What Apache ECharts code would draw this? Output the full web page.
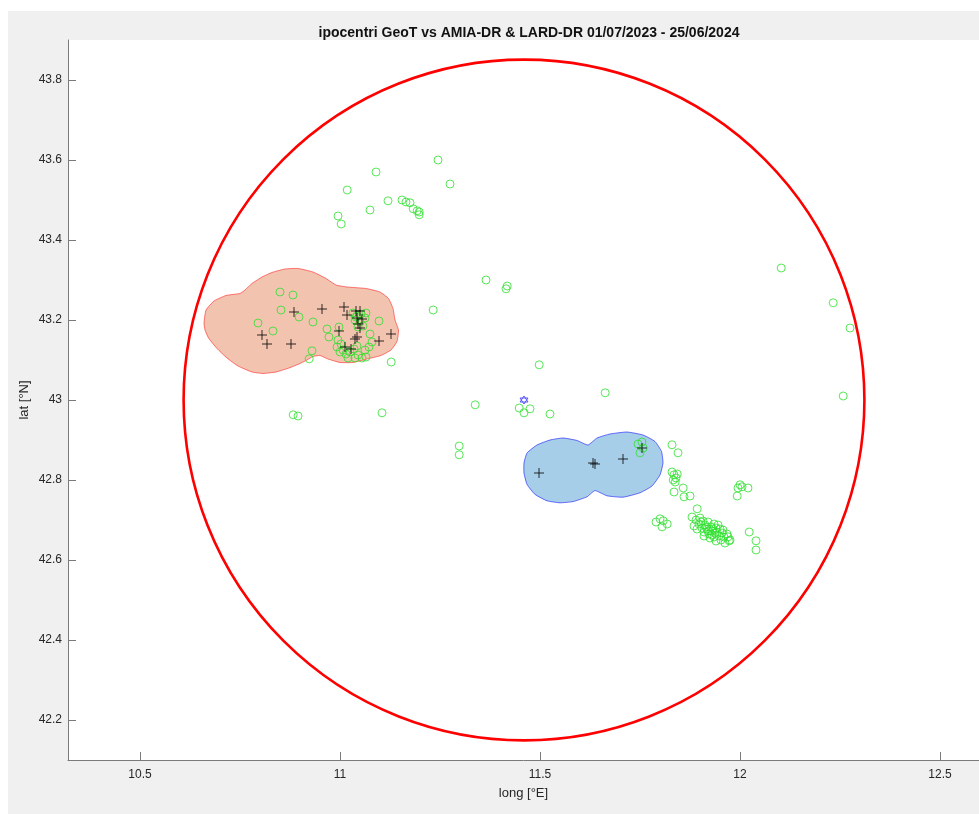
<!DOCTYPE html>
<html><head><meta charset="utf-8">
<script src="https://cdn.jsdelivr.net/npm/echarts@6/dist/echarts.min.js"></script>
<style>html,body{margin:0;padding:0;background:#fff}#c{width:979px;height:814px}</style>
</head><body><div id="c"></div>
<script>
// ---- tick labels ----
const xTicks = [10.5, 11, 11.5, 12, 12.5];
const yTicks = [42.2, 42.4, 42.6, 42.8, 43, 43.2, 43.4, 43.6, 43.8];

// ---- GeoT hypocentres (green circles) ----
const geotNorthLon = [11.245,11.275,11.090,11.018,11.120,11.155,11.165,11.175,11.183,11.193,11.198,11.198,11.075,10.995,11.003];
const geotNorthLat = [43.600,43.540,43.570,43.525,43.498,43.500,43.495,43.493,43.478,43.473,43.470,43.463,43.475,43.460,43.440];
const geotMidLon = [11.365,11.418,11.415,11.233,11.498,11.338,11.448,11.460,11.475,11.525,11.663,11.298,11.298,11.105,10.883,10.895,11.128,10.923,10.930];
const geotMidLat = [43.300,43.285,43.278,43.225,43.088,42.988,42.980,42.968,42.978,42.965,43.018,42.885,42.863,42.968,42.963,42.960,43.095,43.103,43.123];
const geotEastLon = [12.103,12.233,12.275,12.258];
const geotEastLat = [43.330,43.243,43.180,43.010];
const geotSELon = [11.745,11.755,11.758,11.750,11.830,11.845,11.830,11.835,11.840,11.833,11.838,11.843,11.835,11.858,11.860,11.875,11.893,11.790,11.800,11.808,11.805,11.818,12.000,11.995,12.005,11.993,12.020,12.023,12.040,12.040,11.970,11.973];
const geotSELat = [42.890,42.895,42.880,42.868,42.888,42.868,42.820,42.813,42.805,42.800,42.795,42.815,42.770,42.780,42.758,42.760,42.728,42.695,42.703,42.698,42.683,42.690,42.788,42.780,42.783,42.760,42.780,42.670,42.648,42.625,42.658,42.648];
const geotDenseLon = [11.880,11.890,11.900,11.9075,11.8975,11.9125,11.920,11.885,11.905,11.9175,11.9275,11.935,11.940,11.930,11.9225,11.910,11.9425,11.950,11.955,11.9475,11.935,11.925,11.960,11.9675,11.9525,11.940,11.975,11.915,11.9325,11.945,11.9025,11.8925,11.9575,11.9625,11.930,11.920,11.910,11.9375];
const geotDenseLat = [42.7075,42.700,42.705,42.6975,42.690,42.6875,42.695,42.685,42.680,42.6775,42.6825,42.690,42.680,42.6725,42.665,42.670,42.670,42.6775,42.6675,42.660,42.6575,42.655,42.6575,42.665,42.650,42.6475,42.650,42.6825,42.6775,42.6875,42.695,42.6775,42.675,42.6425,42.6625,42.6725,42.660,42.6675];
const geotWestLon = [10.85,10.8825,10.8525,10.8975,10.795,10.8325,10.9325,10.9675,10.9725,10.9975,11.0975,11.075,11.08,11.0325,11.0425,11.0525,11.0625,11.0375,11.05,11.0575,11.045,11.04,11.065,10.995,11.0025,10.9925,11.0075,11.015,11.025,11.035,11.045,11.055,11.0625,11.0725,11.065,11.0375,11.02,11.0425,11.0];
const geotWestLat = [43.27,43.2625,43.225,43.2075,43.1925,43.1725,43.195,43.1775,43.1575,43.1825,43.1975,43.165,43.145,43.2175,43.21,43.215,43.205,43.20,43.195,43.185,43.1825,43.2075,43.2175,43.15,43.14,43.1325,43.125,43.115,43.12,43.1275,43.1125,43.105,43.125,43.1325,43.1075,43.105,43.105,43.135,43.12];

// ---- AMIA-DR / LARD-DR events (black +) ----
const drLon = [10.885,10.955,11.01,11.0175,11.04,11.05,11.0425,11.055,11.045,11.05,10.9975,11.0425,10.805,10.8175,10.8775,11.0125,11.0275,11.0975,11.1275,11.0375,11.4975,11.6325,11.6375,11.7075,11.755];
const drLat = [43.22,43.2275,43.2325,43.2125,43.2225,43.2225,43.205,43.2025,43.19,43.18,43.1725,43.1575,43.1625,43.14,43.14,43.1325,43.1275,43.1475,43.165,43.1525,42.8175,42.8425,42.84,42.8525,42.88];

// ---- zone outlines ----
const amiaLon = [10.66,10.665,10.685,10.715,10.75,10.7625,10.78,10.805,10.83,10.8625,10.895,10.9325,10.965,10.99,11.0175,11.065,11.1,11.1213,11.1325,11.1375,11.1463,11.1425,11.1275,11.1025,11.0675,11.0325,11.0,10.97,10.95,10.9325,10.9175,10.9,10.8725,10.84,10.8075,10.78,10.745,10.7175,10.6925,10.6713,10.6625];
const amiaLat = [43.1925,43.225,43.2475,43.2613,43.2663,43.275,43.2913,43.3075,43.3188,43.3275,43.3288,43.32,43.3038,43.2875,43.2825,43.2788,43.27,43.2538,43.2288,43.2,43.175,43.1463,43.125,43.1113,43.1025,43.0938,43.0938,43.1025,43.1113,43.1088,43.1,43.0913,43.08,43.07,43.0663,43.07,43.085,43.105,43.1288,43.155,43.175];
const lardLon = [11.46,11.4675,11.4925,11.525,11.5575,11.5925,11.62,11.6425,11.675,11.7175,11.7575,11.7875,11.8038,11.8075,11.8,11.78,11.75,11.7075,11.6675,11.6375,11.6175,11.5825,11.55,11.5175,11.4875,11.4675,11.46];
const lardLat = [42.8425,42.8675,42.8875,42.9,42.905,42.8988,42.8875,42.905,42.915,42.92,42.9125,42.8963,42.8713,42.8425,42.8125,42.785,42.768,42.757,42.7605,42.7735,42.758,42.746,42.743,42.748,42.764,42.789,42.817];

// ---- reference circle and centre ----
const centreLon = [11.46];
const centreLat = [43.0];
const circleRadiusDeg = [0.851];

const zip = (a, b) => a.map((v, i) => [v, b[i]]);
const geotLon = [].concat(geotNorthLon, geotMidLon, geotEastLon, geotSELon, geotDenseLon, geotWestLon);
const geotLat = [].concat(geotNorthLat, geotMidLat, geotEastLat, geotSELat, geotDenseLat, geotWestLat);

const FONT = '"Liberation Sans", Arial, Helvetica, sans-serif';
const chart = echarts.init(document.getElementById('c'), null, {renderer: 'canvas'});

function zoneSeries(lon, lat, fill, stroke) {
  return {
    type: 'custom', coordinateSystem: 'cartesian2d', clip: false, silent: true,
    encode: {x: 0, y: 1},
    data: zip(lon, lat),
    renderItem: function (params, api) {
      if (params.dataIndexInside !== 0) return null;
      const pts = lon.map((v, i) => api.coord([v, lat[i]]));
      return {type: 'polygon', shape: {points: pts, smooth: 0.15},
        style: {fill: fill, stroke: stroke, lineWidth: 1}};
    }
  };
}

chart.setOption({
  animation: false,
  backgroundColor: '#ffffff',
  graphic: [{type: 'rect', z: -100, silent: true, shape: {x: 8, y: 11, width: 971, height: 803}, style: {fill: '#f0f0f0'}}],
  title: {
    text: 'ipocentri GeoT vs AMIA-DR & LARD-DR 01/07/2023 - 25/06/2024',
    left: 524, top: 21, textAlign: 'center',
    textStyle: {fontFamily: FONT, fontSize: 14, fontWeight: 'bold', color: '#111'}
  },
  grid: {left: 68, right: 0, top: 40, bottom: 54, show: true, backgroundColor: '#ffffff', borderWidth: 0, containLabel: false},
  xAxis: {
    type: 'value', min: 10.32, max: 12.5975,
    name: 'long [°E]', nameLocation: 'middle', nameGap: 27,
    nameTextStyle: {fontFamily: FONT, fontSize: 13, color: '#262626'},
    axisLine: {show: true, onZero: false, lineStyle: {color: '#7a7a7a', width: 1}},
    axisTick: {show: true, inside: true, length: 8, customValues: xTicks, lineStyle: {color: '#7a7a7a'}},
    axisLabel: {customValues: xTicks, fontFamily: FONT, fontSize: 12, color: '#262626', margin: 9},
    splitLine: {show: false}
  },
  yAxis: {
    type: 'value', min: 42.1, max: 43.9,
    name: 'lat [°N]', nameLocation: 'middle', nameGap: 37, nameRotate: 90, nameMoveOverlap: false,
    nameTextStyle: {fontFamily: FONT, fontSize: 13, color: '#262626'},
    axisLine: {show: true, onZero: false, lineStyle: {color: '#7a7a7a', width: 1}},
    axisTick: {show: true, inside: true, length: 8, customValues: yTicks, lineStyle: {color: '#7a7a7a'}},
    axisLabel: {customValues: yTicks, fontFamily: FONT, fontSize: 12, color: '#262626', margin: 6},
    splitLine: {show: false}
  },
  series: [
    {
      name: 'GeoT', type: 'scatter', data: zip(geotLon, geotLat),
      symbol: 'circle', symbolSize: 8,
      itemStyle: {color: 'transparent', borderColor: '#2fe02f', borderWidth: 1, opacity: 0.8}
    },
    {
      name: 'DR', type: 'scatter', data: zip(drLon, drLat),
      symbol: 'path://M0,5L10,5M5,0L5,10', symbolSize: 10,
      itemStyle: {color: 'transparent', borderColor: '#000000', borderWidth: 1}
    },
    zoneSeries(amiaLon, amiaLat, 'rgba(217,83,25,0.35)', 'rgba(255,0,0,0.5)'),
    zoneSeries(lardLon, lardLat, 'rgba(0,114,189,0.35)', 'rgba(0,0,255,0.55)'),
    {
      name: 'circle', type: 'custom', coordinateSystem: 'cartesian2d', clip: false, silent: true,
      encode: {x: 0, y: 1},
      data: centreLon.map((v, i) => [v, centreLat[i], circleRadiusDeg[i]]),
      renderItem: function (params, api) {
        const c = api.coord([api.value(0), api.value(1)]);
        const r = api.size([api.value(2), 0])[0];
        return {type: 'circle', shape: {cx: c[0], cy: c[1], r: r},
          style: {fill: 'none', stroke: '#ff0000', lineWidth: 2.6}};
      }
    },
    {
      name: 'centre', type: 'scatter', data: zip(centreLon, centreLat),
      symbol: 'path://M5,0L9.33,7.5L0.67,7.5Z M5,10L0.67,2.5L9.33,2.5Z', symbolSize: 8,
      itemStyle: {color: 'transparent', borderColor: '#3a3aff', borderWidth: 1}
    }
  ]
});
</script></body></html>
